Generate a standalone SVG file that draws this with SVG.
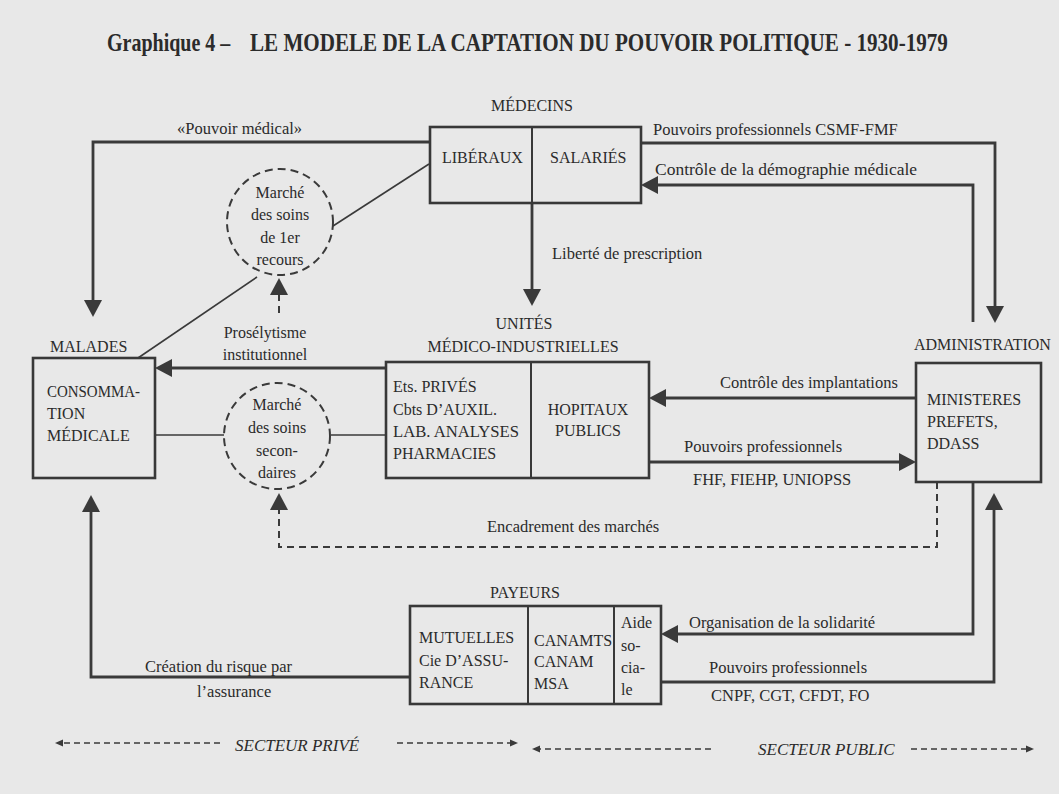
<svg xmlns="http://www.w3.org/2000/svg" width="1059" height="794" viewBox="0 0 1059 794">
<defs>
<style>
text{font-family:"Liberation Serif","Times New Roman",serif;font-size:16px;fill:#2b2b2b}
.t{font-weight:bold;font-size:25px}
.lab{font-size:16.5px}
.c{text-anchor:middle}
.it{font-style:italic;font-size:17px}
.box{fill:none;stroke:#383838;stroke-width:2.6}
.div{stroke:#383838;stroke-width:2}
.ln{fill:none;stroke:#3a3a3a;stroke-width:2.8}
.thin{fill:none;stroke:#3a3a3a;stroke-width:1.6}
.dl{fill:none;stroke:#3a3a3a;stroke-width:2;stroke-dasharray:7 5}
.sd{fill:none;stroke:#3a3a3a;stroke-width:1.6;stroke-dasharray:6 4}
.circ{fill:none;stroke:#3a3a3a;stroke-width:2;stroke-dasharray:8 5}
</style>
<marker id="ah" markerUnits="userSpaceOnUse" markerWidth="18" markerHeight="19" refX="0" refY="9" orient="auto" overflow="visible"><path d="M0,0 L17,9 L0,18 z" fill="#3a3a3a"/></marker>
<marker id="sa" markerUnits="userSpaceOnUse" markerWidth="9" markerHeight="8" refX="0" refY="3.5" orient="auto" overflow="visible"><path d="M0,0 L8,3.5 L0,7 z" fill="#3a3a3a"/></marker>
</defs>
<rect width="1059" height="794" fill="#e8e8e8"/>
<g id="title">
<text class="t" transform="translate(107,51) scale(0.8,1)">Graphique 4 –</text>
<text class="t" transform="translate(250,51) scale(0.844,1)">LE MODELE DE LA CAPTATION DU POUVOIR POLITIQUE - 1930-1979</text>
</g>

<g id="connectors">
<path class="ln" d="M430,142 H93 V300" marker-end="url(#ah)"/>
<path class="ln" d="M641,143 H995 V306" marker-end="url(#ah)"/>
<path class="ln" d="M973,322 V185 H658" marker-end="url(#ah)"/>
<path class="ln" d="M532,203 V289" marker-end="url(#ah)"/>
<path class="ln" d="M387,368 H172" marker-end="url(#ah)"/>
<path class="ln" d="M916,398 H666" marker-end="url(#ah)"/>
<path class="ln" d="M648,462 H899" marker-end="url(#ah)"/>
<path class="dl" d="M937,482 V547 H279 V510" marker-end="url(#ah)"/>
<path class="dl" d="M279,313 V295" marker-end="url(#ah)"/>
<path class="ln" d="M973,482 V634 H678" marker-end="url(#ah)"/>
<path class="ln" d="M661,682 H994 V510" marker-end="url(#ah)"/>
<path class="ln" d="M410,677 H91 V512" marker-end="url(#ah)"/>
<path class="thin" d="M333,226 L429,164"/>
<path class="thin" d="M257,277 L138,358"/>
<path class="thin" d="M155,435 H224"/>
<path class="thin" d="M331,435 H387"/>
<path class="sd" d="M220,743 H63" marker-end="url(#sa)"/>
<path class="sd" d="M397,743 H510" marker-end="url(#sa)"/>
<path class="sd" d="M711,749 H540" marker-end="url(#sa)"/>
<path class="sd" d="M911,749 H1026" marker-end="url(#sa)"/>
</g>

<g id="labels">
<text class="lab" x="177" y="134">«Pouvoir médical»</text>
<text class="lab" x="653" y="135">Pouvoirs professionnels CSMF-FMF</text>
<text class="lab" x="655" y="175" textLength="262" lengthAdjust="spacingAndGlyphs">Contrôle de la démographie médicale</text>
<text class="lab" x="552" y="259">Liberté de prescription</text>
<text class="c" x="265" y="338">Prosélytisme</text>
<text class="c" x="265" y="360">institutionnel</text>
<text class="lab" x="720" y="388">Contrôle des implantations</text>
<text class="lab" x="684" y="452">Pouvoirs professionnels</text>
<text class="lab" x="693" y="485">FHF, FIEHP, UNIOPSS</text>
<text class="lab" x="487" y="532">Encadrement des marchés</text>
<text class="lab" x="689" y="628">Organisation de la solidarité</text>
<text class="lab" x="709" y="673">Pouvoirs professionnels</text>
<text class="lab" x="711" y="701">CNPF, CGT, CFDT, FO</text>
<text class="lab" x="145" y="672">Création du risque par</text>
<text class="lab" x="197" y="697">l’assurance</text>
<text class="it" x="235" y="751">SECTEUR PRIVÉ</text>
<text class="it" x="758" y="755">SECTEUR PUBLIC</text>
</g>

<g id="medecins">
<text class="c" x="532" y="111">MÉDECINS</text>
<rect class="box" x="430" y="127" width="211" height="76"/>
<line class="div" x1="532" y1="127" x2="532" y2="203"/>
<text x="442" y="163">LIBÉRAUX</text>
<text x="550" y="163">SALARIÉS</text>
</g>

<g id="marche1">
<circle class="circ" cx="280" cy="222" r="53"/>
<text class="c" x="280" y="198">Marché</text>
<text class="c" x="280" y="220">des soins</text>
<text class="c" x="280" y="243">de 1er</text>
<text class="c" x="280" y="265">recours</text>
</g>

<g id="malades">
<text x="50" y="352">MALADES</text>
<rect class="box" x="33" y="358" width="122" height="120"/>
<text x="47" y="397" textLength="93" lengthAdjust="spacingAndGlyphs">CONSOMMA-</text>
<text x="47" y="419">TION</text>
<text x="47" y="441">MÉDICALE</text>
</g>

<g id="marche2">
<circle class="circ" cx="277" cy="436" r="53"/>
<text class="c" x="277" y="410">Marché</text>
<text class="c" x="277" y="433">des soins</text>
<text class="c" x="277" y="456">secon-</text>
<text class="c" x="277" y="478">daires</text>
</g>

<g id="unites">
<text class="c" x="524" y="329">UNITÉS</text>
<text class="c" x="523" y="352">MÉDICO-INDUSTRIELLES</text>
<rect class="box" x="386" y="362" width="263" height="116"/>
<line class="div" x1="531" y1="362" x2="531" y2="478"/>
<text x="393" y="392">Ets. PRIVÉS</text>
<text x="393" y="415">Cbts D’AUXIL.</text>
<text x="393" y="437" textLength="126" lengthAdjust="spacingAndGlyphs">LAB. ANALYSES</text>
<text x="393" y="459">PHARMACIES</text>
<text class="c" x="588" y="415">HOPITAUX</text>
<text class="c" x="588" y="436">PUBLICS</text>
</g>

<g id="administration">
<text x="914" y="350">ADMINISTRATION</text>
<rect class="box" x="916" y="363" width="125" height="119"/>
<text x="927" y="405">MINISTERES</text>
<text x="927" y="427">PREFETS,</text>
<text x="927" y="449">DDASS</text>
</g>

<g id="payeurs">
<text class="c" x="525" y="598">PAYEURS</text>
<rect class="box" x="410" y="606" width="251" height="98"/>
<line class="div" x1="528" y1="606" x2="528" y2="704"/>
<line class="div" x1="614" y1="606" x2="614" y2="704"/>
<text x="419" y="643">MUTUELLES</text>
<text x="419" y="666">Cie D’ASSU-</text>
<text x="419" y="688">RANCE</text>
<text x="534" y="646">CANAMTS</text>
<text x="534" y="667">CANAM</text>
<text x="534" y="689">MSA</text>
<text x="621" y="628">Aide</text>
<text x="621" y="651">so-</text>
<text x="621" y="673">cia-</text>
<text x="621" y="695">le</text>
</g>
</svg>
